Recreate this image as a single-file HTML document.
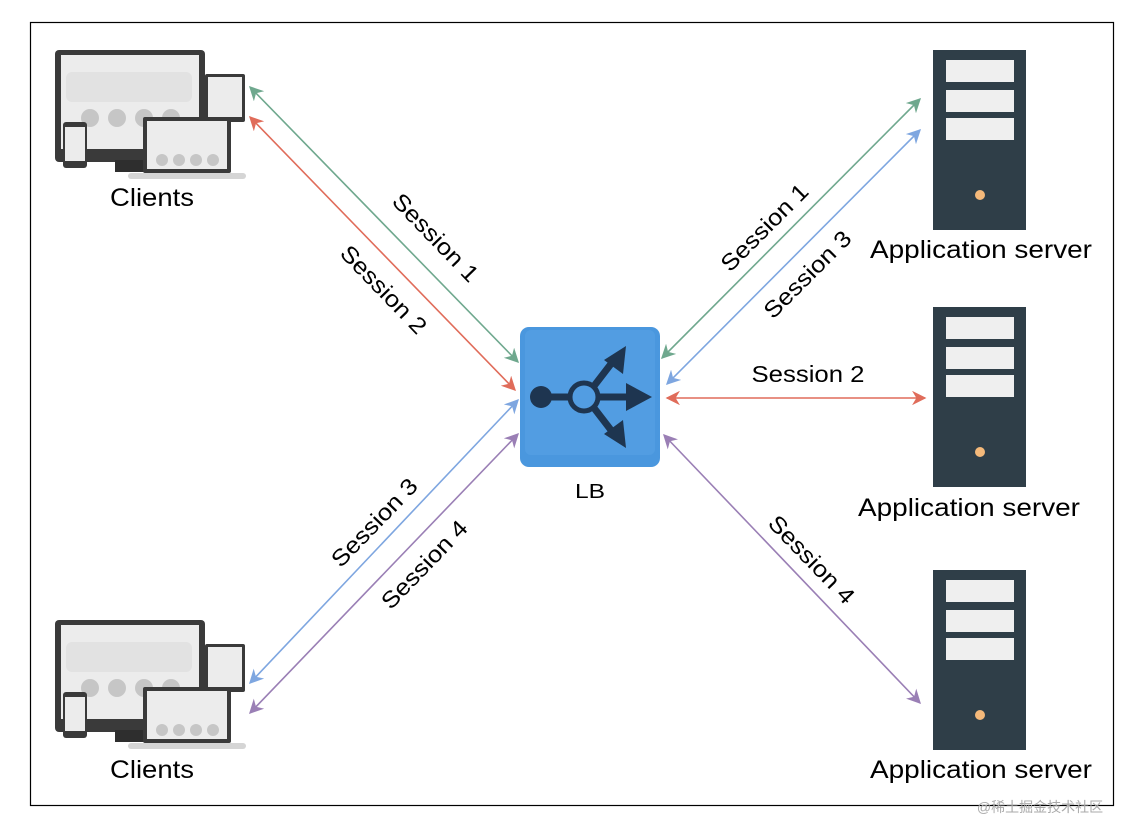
<!DOCTYPE html>
<html><head><style>body{margin:0;background:#fff}svg{display:block}text{font-family:"Liberation Sans",Arial,sans-serif}</style></head>
<body>
<svg width="1128" height="822" viewBox="0 0 1128 822" xmlns="http://www.w3.org/2000/svg">
<defs>
<marker id="g" viewBox="0 0 10 10" refX="9" refY="5" markerWidth="9" markerHeight="9" orient="auto-start-reverse"><path d="M0,0L10,5L0,10L3,5z" fill="#6fa88e"/></marker>
<marker id="r" viewBox="0 0 10 10" refX="9" refY="5" markerWidth="9" markerHeight="9" orient="auto-start-reverse"><path d="M0,0L10,5L0,10L3,5z" fill="#e06c5a"/></marker>
<marker id="b" viewBox="0 0 10 10" refX="9" refY="5" markerWidth="9" markerHeight="9" orient="auto-start-reverse"><path d="M0,0L10,5L0,10L3,5z" fill="#7ea6e0"/></marker>
<marker id="p" viewBox="0 0 10 10" refX="9" refY="5" markerWidth="9" markerHeight="9" orient="auto-start-reverse"><path d="M0,0L10,5L0,10L3,5z" fill="#9a7fb5"/></marker>
<g id="cl">
<rect x="55" y="50" width="150" height="112" rx="4" fill="#3a3a3a"/>
<rect x="61" y="55" width="138" height="94" fill="#ececec"/>
<rect x="66" y="72" width="126" height="30" rx="6" fill="#e2e2e2"/>
<g fill="#c6c6c6"><circle cx="90" cy="118" r="9"/><circle cx="117" cy="118" r="9"/><circle cx="144" cy="118" r="9"/><circle cx="171" cy="118" r="9"/></g>
<rect x="115" y="160" width="30" height="12" fill="#2e2e2e"/>
<rect x="205" y="74" width="40" height="48" rx="2" fill="#3a3a3a"/><rect x="208" y="77" width="34" height="40" fill="#ececec"/>
<rect x="143" y="117" width="88" height="56" rx="2" fill="#3a3a3a"/><rect x="147" y="121" width="80" height="48" fill="#ececec"/>
<g fill="#c6c6c6"><circle cx="162" cy="160" r="6"/><circle cx="179" cy="160" r="6"/><circle cx="196" cy="160" r="6"/><circle cx="213" cy="160" r="6"/></g>
<rect x="128" y="173" width="118" height="6" rx="3" fill="#d5d5d5"/>
<rect x="63" y="122" width="24" height="46" rx="3" fill="#3a3a3a"/><rect x="65" y="127" width="20" height="34" fill="#ececec"/>
</g>
<g id="sv">
<rect x="933" y="50" width="93" height="180" fill="#2f3e48"/>
<rect x="946" y="60" width="68" height="22" fill="#efefef"/><rect x="946" y="90" width="68" height="22" fill="#efefef"/><rect x="946" y="118" width="68" height="22" fill="#efefef"/>
<circle cx="980" cy="195" r="5" fill="#f5b97a"/>
</g>
</defs>
<rect x="30.5" y="22.5" width="1083" height="783" fill="none" stroke="#000" stroke-width="1.2"/>
<use href="#cl"/><use href="#cl" y="570"/>
<use href="#sv"/><use href="#sv" y="257"/><use href="#sv" y="520"/>
<g font-size="25" text-anchor="middle" fill="#000">
<text x="152" y="206" textLength="84" lengthAdjust="spacingAndGlyphs">Clients</text><text x="152" y="778" textLength="84" lengthAdjust="spacingAndGlyphs">Clients</text>
<text x="981" y="258" textLength="222" lengthAdjust="spacingAndGlyphs">Application server</text><text x="969" y="516" textLength="222" lengthAdjust="spacingAndGlyphs">Application server</text><text x="981" y="778" textLength="222" lengthAdjust="spacingAndGlyphs">Application server</text>
</g>
<g stroke-width="1.6" fill="none">
<line x1="250" y1="87" x2="518" y2="362" stroke="#6fa88e" marker-start="url(#g)" marker-end="url(#g)"/>
<line x1="250" y1="117" x2="515" y2="390" stroke="#e06c5a" marker-start="url(#r)" marker-end="url(#r)"/>
<line x1="250" y1="683" x2="518" y2="400" stroke="#7ea6e0" marker-start="url(#b)" marker-end="url(#b)"/>
<line x1="250" y1="713" x2="518" y2="434" stroke="#9a7fb5" marker-start="url(#p)" marker-end="url(#p)"/>
<line x1="662" y1="358" x2="920" y2="99" stroke="#6fa88e" marker-start="url(#g)" marker-end="url(#g)"/>
<line x1="667" y1="384" x2="920" y2="130" stroke="#7ea6e0" marker-start="url(#b)" marker-end="url(#b)"/>
<line x1="667" y1="398" x2="925" y2="398" stroke="#e06c5a" marker-start="url(#r)" marker-end="url(#r)"/>
<line x1="664" y1="435" x2="920" y2="703" stroke="#9a7fb5" marker-start="url(#p)" marker-end="url(#p)"/>
</g>
<g font-size="23" text-anchor="middle" fill="#000">
<text transform="translate(430,243) rotate(46)" textLength="113" lengthAdjust="spacingAndGlyphs">Session 1</text>
<text transform="translate(378,295) rotate(46)" textLength="113" lengthAdjust="spacingAndGlyphs">Session 2</text>
<text transform="translate(380,528) rotate(-46)" textLength="113" lengthAdjust="spacingAndGlyphs">Session 3</text>
<text transform="translate(430,570) rotate(-46)" textLength="113" lengthAdjust="spacingAndGlyphs">Session 4</text>
<text transform="translate(770,233) rotate(-45)" textLength="113" lengthAdjust="spacingAndGlyphs">Session 1</text>
<text transform="translate(813,280) rotate(-45)" textLength="113" lengthAdjust="spacingAndGlyphs">Session 3</text>
<text x="808" y="382" textLength="113" lengthAdjust="spacingAndGlyphs">Session 2</text>
<text transform="translate(806,565) rotate(46)" textLength="113" lengthAdjust="spacingAndGlyphs">Session 4</text>
</g>
<rect x="520" y="327" width="140" height="140" rx="9" fill="#4a97de"/>
<rect x="525" y="330" width="130" height="125" rx="6" fill="#5aa3e6" opacity="0.5"/>
<g stroke="#1e3550" stroke-width="7" fill="none">
<line x1="541" y1="397" x2="570" y2="397"/><circle cx="584" cy="397" r="14" stroke-width="5"/>
<line x1="598" y1="397" x2="630" y2="397"/><line x1="594" y1="386" x2="614" y2="360"/><line x1="594" y1="408" x2="614" y2="434"/>
</g>
<g fill="#1e3550"><circle cx="541" cy="397" r="11"/>
<path d="M626,383L652,397L626,411z"/><path d="M604,360L626,346L623,374z"/><path d="M604,434L623,420L626,448z"/></g>
<text x="590" y="498" font-size="20" text-anchor="middle" textLength="30" lengthAdjust="spacingAndGlyphs">LB</text>
<text x="1040" y="812" font-size="14" fill="#aaa" text-anchor="middle" font-family="Liberation Sans,'Noto Sans CJK SC',sans-serif">@稀土掘金技术社区</text>
</svg>
</body></html>
